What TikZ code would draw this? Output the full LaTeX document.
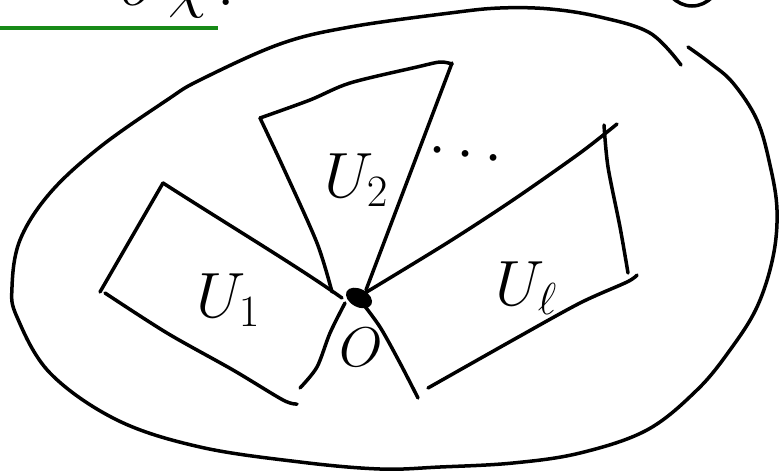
\documentclass[tikz,border=0pt]{standalone}
\usepackage{fix-cm}
\usepackage{xcolor}
\usepackage{tikz}
\definecolor{PenGreen}{HTML}{178A17}
\definecolor{Ink}{HTML}{000000}

\begin{document}
\begin{tikzpicture}[
    x=1pt, y=-1pt,
    pen/.style={draw=Ink, line width=3.5pt, line cap=round, line join=round},
    hand/.style={inner sep=0pt, text=Ink, font=\fontsize{64}{70}\selectfont},
    handsmall/.style={inner sep=0pt, text=Ink, font=\fontsize{56}{60}\selectfont},
    underline/.style={draw=PenGreen, line width=3.5pt}
]
\fill[white] (0,0) rectangle (781,472);
\useasboundingbox (0,0) rectangle (781,472);
\clip (0,0) rectangle (781,472);

% cut-off heading
\node[hand, anchor=base west] (head) at (120,5) {$o\;\chi\,.$};
\draw[underline] (0,28) -- (218,28);
\draw[pen] (692,-26) ellipse [x radius=29, y radius=32];

% the big set
\draw[pen] plot[smooth, tension=0.6] coordinates {
    (688,47) (710,63) (733,83) (757,120) (770,165) (777,210) (773,257)
    (757,307) (730,350) (697,390) (647,430) (580,453) (513,463) (440,467)
    (380,469) (300,462) (200,447) (117,420) (50,373) (17,317) (12,287)
    (20,240) (50,193) (100,147) (167,100) (200,80) (280,44) (350,27)
    (450,13) (500,8) (550,9) (600,17) (650,33) (681,65)};

% the point O
\coordinate (O) at (359,298);
\fill[Ink, rotate around={-28:(O)}] (O) ellipse [x radius=14, y radius=9];
\node[handsmall] (Olab) at (361,347) {$O$};

% U_1
\draw[pen] (163,183) -- (100,292);
\draw[pen] (163,183) .. controls (230,226) and (300,268) .. (342,298);
\draw[pen] plot[smooth] coordinates {(105,293) (167,333) (233,370) (283,400) (297,404)};
\draw[pen] plot[smooth] coordinates {(345,303) (330,333) (317,367) (300,388)};
\node[hand] (u1) at (228,300) {$U_1$};

% U_2
\draw[pen] plot[smooth] coordinates {(260,118) (283,167) (317,243) (332,292)};
\draw[pen] plot[smooth] coordinates {(260,118) (310,100) (350,83) (417,67) (440,62) (452,64)};
\draw[pen] (452,63) -- (366,290);
\node[hand] (u2) at (356,180) {$U_2$};

\node[hand, rotate=-8] (dots) at (465,156) {$\cdots$};

% U_l
\draw[pen] plot[smooth] coordinates {(365,293) (447,243) (513,200) (580,153) (617,124)};
\draw[pen] plot[smooth] coordinates {(604,125) (608,167) (620,227) (628,273)};
\draw[pen] plot[smooth] coordinates {(637,275) (627,282) (580,303) (513,340) (428,388)};
\draw[pen] plot[smooth] coordinates {(360,300) (380,327) (400,363) (418,398)};
\node[hand] (ul) at (526,288) {$U_\ell$};
\end{tikzpicture}
\end{document}
